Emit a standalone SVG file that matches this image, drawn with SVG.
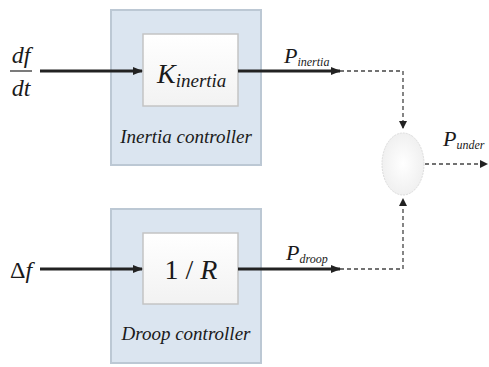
<svg xmlns="http://www.w3.org/2000/svg" width="489" height="367" viewBox="0 0 489 367">
<style>
.outer{fill:#dbe5f0;stroke:#bcc8d4;stroke-width:2}
.inner{fill:url(#ig);stroke:#c4c4c4;stroke-width:1.5}
text{font-family:'Liberation Serif','Times New Roman',serif;font-style:italic;fill:#1a1a1a}
.solid{stroke:#222;stroke-width:3;fill:none}
.dash{stroke:#444;stroke-width:1.3;stroke-dasharray:4 3;fill:none}
</style>
<defs>
<linearGradient id="ig" x1="0" y1="0" x2="0" y2="1"><stop offset="0" stop-color="#ffffff"/><stop offset="1" stop-color="#f2f2f2"/></linearGradient>
<radialGradient id="cg"><stop offset="0" stop-color="#ffffff"/><stop offset="1" stop-color="#f0f0f0"/></radialGradient>
<marker id="ah" markerWidth="10" markerHeight="8" refX="9" refY="4" orient="auto" markerUnits="userSpaceOnUse"><path d="M0,0 L10,4 L0,8 Z" fill="#222"/></marker>
<marker id="ahs" markerWidth="8" markerHeight="8" refX="7" refY="4" orient="auto" markerUnits="userSpaceOnUse"><path d="M0,0 L8,4 L0,8 Z" fill="#222"/></marker>
</defs>
<rect width="489" height="367" fill="#fff"/>
<g id="inertia">
<rect class="outer" x="111" y="10" width="150" height="155"/>
<rect class="inner" x="143" y="34" width="95" height="72"/>
<text x="157" y="83" font-size="28">K<tspan font-size="19" dy="4">inertia</tspan></text>
<text x="186" y="143" font-size="19" text-anchor="middle">Inertia controller</text>
</g>
<g id="droop">
<rect class="outer" x="111" y="209" width="150" height="154"/>
<rect class="inner" x="143" y="233" width="95" height="71"/>
<text x="191" y="279" font-size="28" text-anchor="middle"><tspan font-style="normal">1 / </tspan>R</text>
<text x="186" y="340" font-size="19" text-anchor="middle">Droop controller</text>
</g>
<g id="sum">
<ellipse cx="403" cy="164" rx="21" ry="31" fill="url(#cg)" stroke="#dcdcdc" stroke-width="1" stroke-dasharray="2 1"/>
</g>
<g id="labels">
<text x="21" y="63" font-size="24" text-anchor="middle">df</text>
<line x1="10" y1="71" x2="32" y2="71" stroke="#222" stroke-width="1.2"/>
<text x="21" y="96" font-size="24" text-anchor="middle">dt</text>
<text x="10" y="278" font-size="24"><tspan font-style="normal">Δ</tspan>f</text>
<text x="284" y="63" font-size="22">P<tspan font-size="12" dy="3">inertia</tspan></text>
<text x="286" y="260" font-size="22">P<tspan font-size="12" dy="3">droop</tspan></text>
<text x="443" y="146" font-size="22">P<tspan font-size="12" dy="3">under</tspan></text>
</g>
<g id="connectors">
<line class="solid" x1="40" y1="71" x2="142" y2="71" marker-end="url(#ah)"/>
<line class="solid" x1="238" y1="71" x2="340" y2="71" marker-end="url(#ah)"/>
<polyline class="dash" points="340,71 403,71 403,128" marker-end="url(#ahs)"/>
<line class="solid" x1="40" y1="269" x2="142" y2="269" marker-end="url(#ah)"/>
<line class="solid" x1="238" y1="269" x2="340" y2="269" marker-end="url(#ah)"/>
<polyline class="dash" points="340,269 403,269 403,199" marker-end="url(#ahs)"/>
<line class="dash" x1="425" y1="164" x2="487" y2="164" marker-end="url(#ahs)"/>
</g>
</svg>
